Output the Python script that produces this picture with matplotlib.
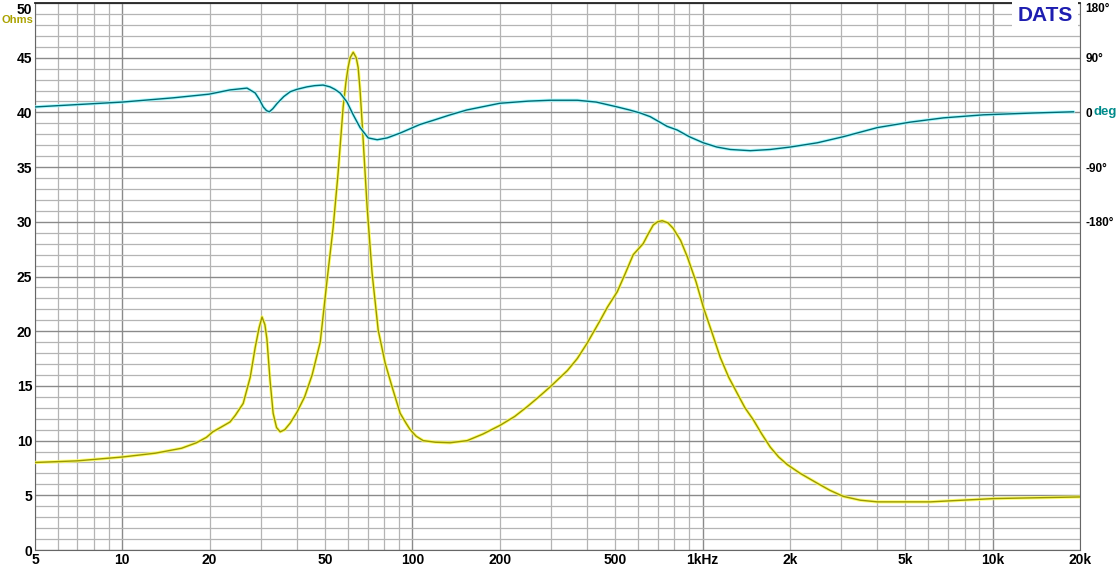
import matplotlib
matplotlib.use("Agg")
import matplotlib.pyplot as plt
import matplotlib.transforms as mtrans
from matplotlib.ticker import FixedLocator, FuncFormatter, MultipleLocator, NullFormatter

# ---------------- data ----------------
freq_z = [5, 7, 10, 13, 16, 18, 19.5, 20.5, 21.8, 23.5, 24.5, 26.1, 27.6, 28.7, 29.6, 30.3,
          31.0, 31.5, 32.3, 33.1, 34.0, 35.0, 36.3, 37.9, 40.0, 42.5, 45.1, 48.1, 50.8,
          53.3, 55.4, 57.7, 59.0, 60.0, 61.0, 62.5, 64.0, 65.0, 66.0, 67.1, 69.8, 72.6, 76.2,
          80.5, 85.1, 90.7, 95, 98.2, 103, 108.9, 120, 134.9, 154.4, 175, 200.6, 225, 248.6,
          270, 298, 342, 370, 400, 444, 470, 508, 540, 577, 624, 650, 676, 700, 726, 760, 792,
          840, 886, 950, 1006, 1080, 1151, 1230, 1318, 1400, 1496, 1600, 1712, 1830, 1960,
          2172, 2487, 2750, 3056, 3500, 4004, 6100, 10055, 20000]
impedance_ohm = [8.0, 8.15, 8.5, 8.85, 9.3, 9.8, 10.3, 10.8, 11.2, 11.7, 12.3, 13.4, 15.8, 18.5,
                 20.3, 21.3, 20.6, 19.3, 15.5, 12.5, 11.2, 10.8, 11.0, 11.6, 12.6, 14.0,
                 16.0, 19.0, 24.7, 29.5, 34.4, 40.5, 42.8, 44.1, 45.0, 45.5, 45.0, 44.1, 42.0,
                 39.0, 31.3, 25.3, 20.1, 17.1, 14.9, 12.5, 11.6, 11.0, 10.4, 10.0, 9.85, 9.8,
                 10.0, 10.6, 11.4, 12.2, 13.1, 13.9, 14.9, 16.4, 17.5, 18.9, 21.0, 22.2, 23.6,
                 25.2, 27.0, 28.0, 28.9, 29.7, 30.0, 30.1, 29.9, 29.4, 28.3, 26.8, 24.5, 22.2,
                 19.8, 17.6, 15.8, 14.3, 13.0, 11.9, 10.6, 9.4, 8.5, 7.8, 7.0, 6.1, 5.45, 4.9,
                 4.55, 4.4, 4.4, 4.7, 4.85]

freq_ph = [5, 10, 15, 19.9, 23.5, 26.9, 28.7, 29.7, 30.6, 31.4, 32.1, 33.0, 34.2, 36.0, 37.9,
           40.0, 43.3, 46.0, 49.2, 52.0, 54.0, 56.3, 59.5, 62.5, 66, 70.4, 75.6, 81.8, 90.7,
           106, 118, 135, 154, 200, 250, 298, 370, 430, 508, 560, 610, 660, 755, 818, 900,
           1006, 1120, 1246, 1460, 1712, 2006, 2487, 3056, 4004, 5200, 6761, 9290, 13800, 19000]
phase_deg = [9, 17, 24, 30, 37, 40, 32, 21, 9, 3, 1, 6, 15, 26, 34,
             38, 42, 44, 45, 42, 38, 32, 17, -4, -25, -42, -45, -42, -34,
             -20, -13, -4, 4, 15, 18.5, 20, 20, 17, 9, 4, -1, -7, -23, -29, -40,
             -50, -57, -61, -63, -61, -57, -50, -40, -25, -16, -9, -4, -1, 1]

x_label_vals = [5, 10, 20, 50, 100, 200, 500, 1000, 2000, 5000, 10000, 20000]
x_label_text = ["5", "10", "20", "50", "100", "200", "500", "1kHz", "2k", "5k", "10k", "20k"]
y_ticks = [0, 5, 10, 15, 20, 25, 30, 35, 40, 45, 50]
ph_ticks = [180, 90, 0, -90, -180]
ph_text = ["180°", "90°", "0", "-90°", "-180°"]

# ---------------- figure ----------------
FONT = "Liberation Sans"
W, H = 1117, 566
fig = plt.figure(figsize=(W / 100, H / 100), dpi=100)
fig.patch.set_facecolor("white")
ax = fig.add_axes([35 / W, 16 / H, 1045 / W, 547 / H])
ax.set_xscale("log")
ax.set_xlim(5, 20000)
ax.set_ylim(0, 50)

# grid
decades = [10, 100, 1000, 10000]
minor_f = [m * 10 ** k for k in range(0, 5) for m in range(2, 10)
           if 5 < m * 10 ** k < 20000]
ax.xaxis.set_major_locator(FixedLocator(decades))
ax.xaxis.set_minor_locator(FixedLocator([5] + minor_f + [20000]))
lbl = dict(zip(x_label_vals, x_label_text))
fmt = FuncFormatter(lambda v, p: lbl.get(int(round(v)), ""))
ax.xaxis.set_major_formatter(fmt)
ax.xaxis.set_minor_formatter(fmt)
ax.yaxis.set_major_locator(FixedLocator(y_ticks))
ax.yaxis.set_minor_locator(MultipleLocator(1))
ax.yaxis.set_minor_formatter(NullFormatter())
ax.grid(True, which="minor", color="#b4b4b4", lw=0.9)
ax.grid(True, which="major", color="#8a8a8a", lw=1.0)
ax.set_axisbelow(True)
for s in ["left", "bottom", "right"]:
    ax.spines[s].set_color("#666666")
ax.spines["top"].set_color("#222222")
ax.spines["top"].set_linewidth(1.3)

ax.tick_params(axis="both", which="both", length=0)
ax.tick_params(axis="x", which="both", pad=2)
ax.tick_params(axis="y", which="both", pad=2)
for t in ax.get_xticklabels(which="both"):
    t.set_fontfamily(FONT)
    t.set_fontweight("bold")
    t.set_fontsize(10)
ax.set_yticks(y_ticks)
ax.set_yticklabels([str(v) for v in y_ticks], fontfamily=FONT, fontweight="bold", fontsize=10)
for t in ax.get_yticklabels():
    if t.get_text() == "50":
        t.set_va("top")

ax.text(0, 48.45, "Ohms",
        transform=mtrans.offset_copy(ax.get_yaxis_transform(), fig=fig, x=-2, y=0, units="dots"),
        ha="right", va="center", fontfamily=FONT, fontweight="bold", fontsize=8,
        color="#aaa200")

# impedance
ax.plot(freq_z, impedance_ohm, color="#ffff55", lw=2.4, alpha=0.8,
        solid_capstyle="round", solid_joinstyle="round", zorder=3)
ax.plot(freq_z, impedance_ohm, color="#9a9800", lw=1.0, solid_joinstyle="round", zorder=4)

# phase axis
ax2 = ax.twinx()
ax2.set_ylim(-720, 180)
ax2.set_yticks(ph_ticks)
ax2.set_yticklabels(ph_text, fontfamily=FONT, fontweight="bold", fontsize=8.5)
ax2.tick_params(axis="y", length=0, pad=4)
for t in ax2.get_yticklabels():
    if t.get_text() == "180°":
        t.set_va("top")
for s in ax2.spines.values():
    s.set_visible(False)
ax2.plot(freq_ph, phase_deg, color="#9ffcff", lw=2.4, alpha=0.85,
         solid_capstyle="round", solid_joinstyle="round", zorder=3)
ax2.plot(freq_ph, phase_deg, color="#006a74", lw=1.0, solid_joinstyle="round", zorder=4)
ax2.text(1.0, 0, "deg", transform=mtrans.offset_copy(
    ax2.get_yaxis_transform(), fig=fig, x=14, y=0, units="dots"),
    ha="left", va="center", fontfamily=FONT, fontweight="bold", fontsize=9.5, color="#008b8b")

# DATS badge
ax2.text(0.9665, 0.978, "DATS", transform=ax.transAxes, ha="center", va="center",
         fontfamily=FONT, fontweight="bold", fontsize=15, color="#1e1eb0",
         bbox=dict(facecolor="white", edgecolor="none", boxstyle="square,pad=0.25"), zorder=10)

fig.savefig("out.png", dpi=100, facecolor="white")
